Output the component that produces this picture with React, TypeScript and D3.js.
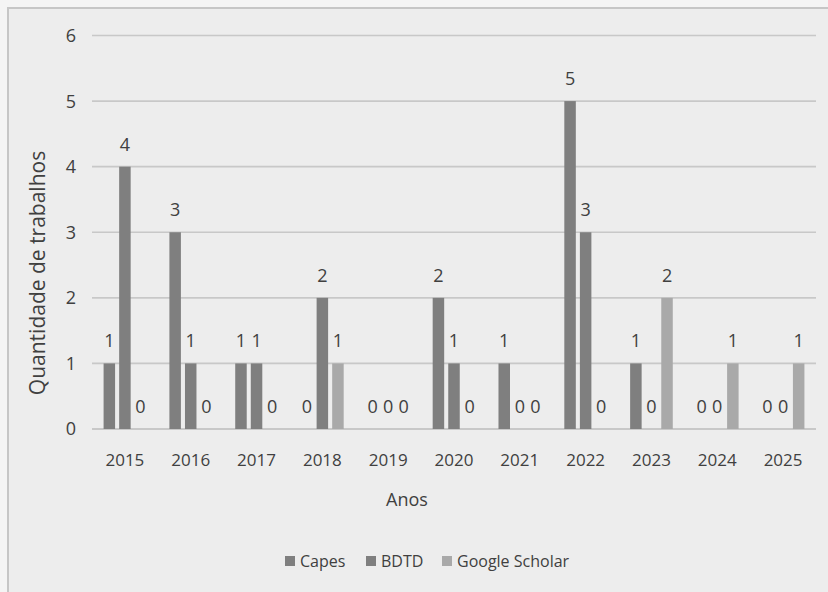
import React from "react";
import * as d3 from "d3";

const years = ["2015", "2016", "2017", "2018", "2019", "2020", "2021", "2022", "2023", "2024", "2025"];
const seriesNames = ["Capes", "BDTD", "Google Scholar"];
const capes = [1, 3, 1, 0, 0, 2, 1, 5, 1, 0, 0];
const bdtd = [4, 1, 1, 2, 0, 1, 0, 3, 0, 0, 0];
const google = [0, 0, 0, 1, 0, 0, 0, 0, 2, 1, 1];
const yTicks = [0, 1, 2, 3, 4, 5, 6];
const colors = ["#7f7f7f", "#7f7f7f", "#a9a9a9"];

const W = 828;
const H = 592;
const FONT = "'Open Sans', 'Noto Sans', sans-serif";
const TXT = "#404040";

export default function App() {
  const values = [capes, bdtd, google];
  const x = d3.scaleBand<string>().domain(years).range([92, 816]).paddingInner(0).paddingOuter(0);
  const y = d3.scaleLinear().domain([0, 6]).range([429, 35.5]);
  const xs = d3.scaleBand<string>().domain(seriesNames).range([-21.75, 21.75]).paddingInner(0.207);
  const bw = 11.5;

  const legendItems = [
    { name: "Capes", sq: 285, tx: 300 },
    { name: "BDTD", sq: 366, tx: 381 },
    { name: "Google Scholar", sq: 442, tx: 457 },
  ];

  return (
    <svg width={W} height={H} style={{ position: "fixed", left: 0, top: 0 }} fontFamily={FONT}>
      <rect x={0} y={0} width={W} height={H} fill="#f4f4f4" />
      <rect x={8} y={8} width={W + 10} height={H + 10} fill="#ededed" stroke="#c6c6c6" strokeWidth={2} />
      {yTicks.map((t) => (
        <g key={t}>
          <line x1={92} x2={816} y1={y(t)} y2={y(t)} stroke="#c8c8c8" strokeWidth={t === 0 ? 2 : 1.6} />
          <text x={76} y={y(t)} dy="0.36em" textAnchor="end" fontSize={18} fill={TXT}>{t}</text>
        </g>
      ))}
      {years.map((yr, i) => {
        const cx = (x(yr) as number) + x.bandwidth() / 2;
        return (
          <g key={yr}>
            {seriesNames.map((s, k) => {
              const v = values[k][i];
              const bx = cx + (xs(s) as number) + xs.bandwidth() / 2;
              return (
                <g key={s}>
                  {v > 0 && (
                    <rect x={bx - bw / 2} y={y(v)} width={bw} height={y(0) - y(v)} fill={colors[k]} />
                  )}
                  <text x={bx} y={y(v) - 16} textAnchor="middle" fontSize={18} fill={TXT}>{v}</text>
                </g>
              );
            })}
            <text x={cx} y={466} textAnchor="middle" fontSize={17} fill={TXT}>{yr}</text>
          </g>
        );
      })}
      <text x={407} y={506} textAnchor="middle" fontSize={18} fill={TXT}>Anos</text>
      <text transform={`translate(45, 273) rotate(-90)`} textAnchor="middle" fontSize={21} fill={TXT}>Quantidade de trabalhos</text>
      {legendItems.map((it, k) => (
        <g key={it.name}>
          <rect x={it.sq} y={556} width={10} height={10} fill={colors[k]} />
          <text x={it.tx} y={561} dy="0.35em" fontSize={16} fill={TXT}>{it.name}</text>
        </g>
      ))}
    </svg>
  );
}
